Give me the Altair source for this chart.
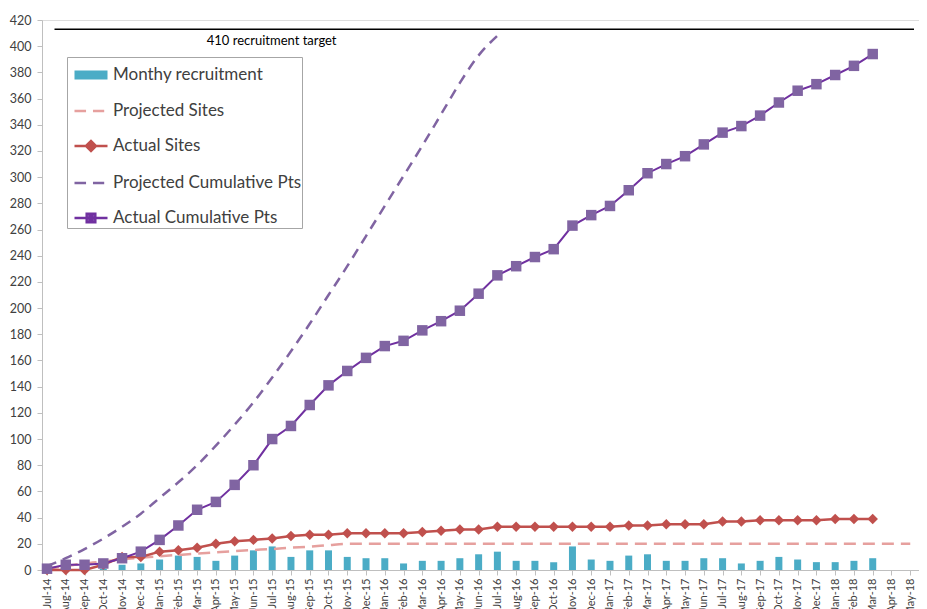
import json
import altair as alt
import pandas as pd

months = ["Jul-14", "Aug-14", "Sep-14", "Oct-14", "Nov-14", "Dec-14",
          "Jan-15", "Feb-15", "Mar-15", "Apr-15", "May-15", "Jun-15",
          "Jul-15", "Aug-15", "Sep-15", "Oct-15", "Nov-15", "Dec-15",
          "Jan-16", "Feb-16", "Mar-16", "Apr-16", "May-16", "Jun-16",
          "Jul-16", "Aug-16", "Sep-16", "Oct-16", "Nov-16", "Dec-16",
          "Jan-17", "Feb-17", "Mar-17", "Apr-17", "May-17", "Jun-17",
          "Jul-17", "Aug-17", "Sep-17", "Oct-17", "Nov-17", "Dec-17",
          "Jan-18", "Feb-18", "Mar-18", "Apr-18", "May-18"]

monthly_recruitment = [1, 3, 0, 1, 4, 5, 8, 11, 10, 7, 11, 15, 18, 10, 15, 15, 10, 9,
                       9, 5, 7, 7, 9, 12, 14, 7, 7, 6, 18, 8, 7, 11, 12, 7, 7, 9,
                       9, 5, 7, 10, 8, 6, 6, 7, 9]

projected_sites = [1, 3, 5, 6.5, 8, 9.5, 10.5, 11.5, 12.5, 13.5, 14.5, 15.3, 16, 17,
                   17.8, 19, 20, 20, 20, 20, 20, 20, 20, 20, 20, 20, 20, 20, 20, 20,
                   20, 20, 20, 20, 20, 20, 20, 20, 20, 20, 20, 20, 20, 20, 20, 20, 20]

actual_sites = [0, 0, 0, 4, 10, 10, 14, 15, 17, 20, 22, 23, 24, 26, 27, 27, 28, 28,
                28, 28, 29, 30, 31, 31, 33, 33, 33, 33, 33, 33, 33, 34, 34, 35, 35,
                35, 37, 37, 38, 38, 38, 38, 39, 39, 39]

projected_cumulative = [3, 9, 16, 24, 33, 43, 55, 67, 80, 95, 111, 128, 147, 167, 188,
                        210, 232, 255, 278, 301, 324, 348, 372, 393, 408]

actual_cumulative = [1, 4, 4, 5, 9, 14, 23, 34, 46, 52, 65, 80, 100, 110, 126, 141,
                     152, 162, 171, 175, 183, 190, 198, 211, 225, 232, 239, 245, 263,
                     271, 278, 290, 303, 310, 316, 325, 334, 339, 347, 357, 366, 371,
                     378, 385, 394]

target_value = 413
target_span = (0.4, 46.2)
target_label = "410 recruitment target"
target_label_pos = (11.97, 404)

series_names = ["Monthy recruitment", "Projected Sites", "Actual Sites",
                "Projected Cumulative Pts", "Actual Cumulative Pts"]
series_colors = ["#4BACC6", "#E6A09E", "#C0504D", "#8064A2", "#7030A0"]

# legend glyphs (unit-square SVG paths, drawn with strokes)
legend_glyphs = [
    "M-1,-0.2H1M-1,-0.1H1M-1,0H1M-1,0.1H1M-1,0.2H1",
    "M-1,0H-0.3M0.12,0H0.8",
    "M-1,0H1M-0.3,0L0,-0.3L0.3,0L0,0.3ZM-0.14,0L0,-0.14L0.14,0L0,0.14Z",
    "M-1,0H-0.3M0.12,0H0.8",
    "M-1,0H1M-0.26,-0.26H0.26V0.26H-0.26ZM-0.1,-0.1H0.1V0.1H-0.1Z",
]


def frame(values):
    return pd.DataFrame({"i": list(range(len(values))), "v": values})


df_bar = frame(monthly_recruitment)
df_ps = frame(projected_sites)
df_as = frame(actual_sites)
df_pc = frame(projected_cumulative)
df_ac = frame(actual_cumulative)
df_leg = pd.DataFrame({"i": [-100] * len(series_names), "v": [0] * len(series_names),
                       "series": series_names})
df_target = pd.DataFrame({"i": [target_span[0]], "i2": [target_span[1]],
                          "v": [target_value]})
df_text = pd.DataFrame({"i": [target_label_pos[0]], "v": [target_label_pos[1]],
                        "label": [target_label]})

FONT = "Lato"

legend = alt.Legend(
    title=None, orient="none", legendX=25, legendY=37, direction="vertical",
    labelFont=FONT, labelFontSize=17, labelColor="#404040", labelOffset=4,
    symbolSize=1089, symbolStrokeWidth=2.5, symbolOffset=6, rowPadding=9, padding=0,
    strokeColor="#A6A6A6", fillColor="white", labelLimit=400,
)

x = alt.X("i:Q", scale=alt.Scale(domain=[0, 46.2], nice=False, zero=False),
          axis=alt.Axis(values=list(range(len(months))),
                        labelExpr=f"{json.dumps(months)}[datum.value]",
                        labelAngle=270, labelFontSize=11, labelFont=FONT,
                        labelColor="#404040", tickSize=5, tickColor="#BFBFBF",
                        domainColor="#BFBFBF", grid=False, title=None, labelPadding=3,
                        labelOverlap=False))
y = alt.Y("v:Q", scale=alt.Scale(domain=[0, 420], nice=False),
          axis=alt.Axis(values=list(range(0, 421, 20)), labelFontSize=12.5,
                        labelFont=FONT, labelColor="#404040", tickSize=5,
                        tickColor="#BFBFBF", domainColor="#BFBFBF", grid=False,
                        title=None, labelPadding=6, labelOverlap=False))

bars = alt.Chart(df_bar).mark_bar(size=7, color=series_colors[0]).encode(x=x, y=y)

ps_line = alt.Chart(df_ps).mark_line(strokeDash=[12, 7], strokeWidth=2.5,
                                     interpolate="monotone",
                                     color=series_colors[1]).encode(x=x, y=y)
as_line = alt.Chart(df_as).mark_line(strokeWidth=2.5, color=series_colors[2]).encode(x=x, y=y)
as_pts = alt.Chart(df_as).mark_point(shape="diamond", filled=True, size=110, opacity=1,
                                     color=series_colors[2]).encode(x=x, y=y)
pc_line = alt.Chart(df_pc).mark_line(strokeDash=[10, 7], strokeWidth=2.5,
                                     interpolate="monotone",
                                     color=series_colors[3]).encode(x=x, y=y)
ac_line = alt.Chart(df_ac).mark_line(strokeWidth=2, color=series_colors[4]).encode(x=x, y=y)
ac_pts = alt.Chart(df_ac).mark_point(shape="square", filled=True, size=110, opacity=1,
                                     color="#8064A2").encode(x=x, y=y)

# legend carrier: points outside the x domain, clipped away; only the legend shows
leg_pts = alt.Chart(df_leg).mark_point(filled=False, size=1089, strokeWidth=2.5,
                                       opacity=1, clip=True).encode(
    x=x, y=y,
    shape=alt.Shape("series:N", scale=alt.Scale(domain=series_names, range=legend_glyphs),
                    legend=legend),
    stroke=alt.Stroke("series:N", scale=alt.Scale(domain=series_names, range=series_colors),
                      legend=legend),
)

target = alt.Chart(df_target).mark_rule(color="black", strokeWidth=1.5).encode(
    x=x, x2="i2:Q", y=y)
target_text = alt.Chart(df_text).mark_text(
    font=FONT, fontSize=13, color="black", align="center", baseline="middle").encode(
    x=x, y=y, text="label:N")

chart = alt.layer(bars, ps_line, as_line, as_pts, pc_line, ac_line, ac_pts, target,
                  target_text, leg_pts).properties(
    width=877, height=550,
    padding={"left": 34, "top": 12, "right": 0, "bottom": 39},
    autosize=alt.AutoSizeParams(type="none"),
).configure_view(stroke=None).configure(background="white")

chart.save("out.html", embed_options={"renderer": "svg", "actions": False})
